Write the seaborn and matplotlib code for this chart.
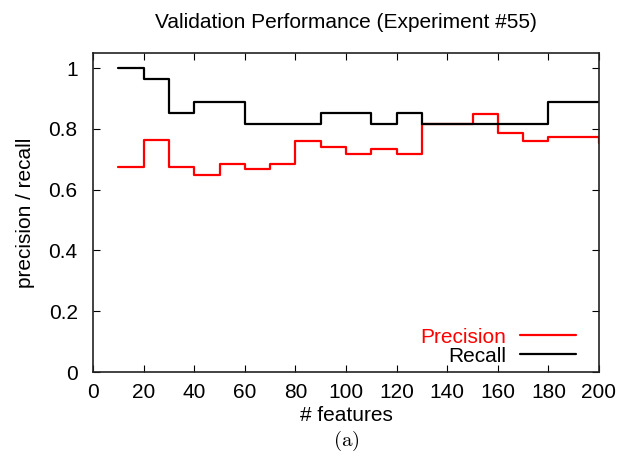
import matplotlib
matplotlib.use("Agg")
import matplotlib.pyplot as plt
import seaborn as sns
import pandas as pd

features = [10, 20, 30, 40, 50, 60, 70, 80, 90, 100, 110, 120, 130, 140, 150, 160, 170, 180, 190, 200]
precision = [0.675, 0.765, 0.675, 0.648, 0.686, 0.668, 0.686, 0.761, 0.742, 0.718, 0.733, 0.718,
             0.815, 0.815, 0.848, 0.787, 0.761, 0.774, 0.774, 0.755]
recall = [1.0, 0.964, 0.853, 0.889, 0.889, 0.816, 0.816, 0.816, 0.853, 0.853, 0.816, 0.853,
          0.816, 0.816, 0.816, 0.816, 0.816, 0.889, 0.889, 0.889]
x_ticks = [0, 20, 40, 60, 80, 100, 120, 140, 160, 180, 200]
y_ticks = [0, 0.2, 0.4, 0.6, 0.8, 1.0]
y_tick_labels = ["0", "0.2", "0.4", "0.6", "0.8", "1"]

sns.set_theme(style="ticks")
plt.rcParams["font.family"] = ["Liberation Sans", "DejaVu Sans"]
plt.rcParams["mathtext.fontset"] = "cm"
plt.rcParams["text.color"] = "black"
plt.rcParams["axes.labelcolor"] = "black"
plt.rcParams["xtick.color"] = "black"
plt.rcParams["ytick.color"] = "black"

df = pd.DataFrame({"features": features, "precision": precision, "recall": recall})

fig = plt.figure(figsize=(6.18, 4.71), dpi=100)
ax = fig.add_axes([93 / 618, 1 - 372 / 471, (599 - 93) / 618, (372 - 53) / 471])

sns.lineplot(data=df, x="features", y="precision", ax=ax, color="#ff0000",
             drawstyle="steps-post", linewidth=1.6, label="Precision")
sns.lineplot(data=df, x="features", y="recall", ax=ax, color="black",
             drawstyle="steps-post", linewidth=1.6, label="Recall")

ax.set_xlim(0, 200)
ax.set_ylim(0, 1.05)
ax.set_xticks(x_ticks)
ax.set_xticklabels([str(v) for v in x_ticks])
ax.set_yticks(y_ticks)
ax.set_yticklabels(y_tick_labels)
ax.tick_params(direction="in", length=5, width=0.8, labelsize=15, colors="black",
               top=True, right=True)
ax.tick_params(axis="x", pad=8)
ax.tick_params(axis="y", pad=11)
for s in ax.spines.values():
    s.set_linewidth(1.2)
    s.set_color("#222222")

ax.set_title("Validation Performance (Experiment #55)", fontsize=15, pad=18, color="black")
ax.set_xlabel("# features", fontsize=15, labelpad=3, color="black")
ax.set_ylabel("precision / recall", fontsize=15, labelpad=10, color="black")

leg = ax.legend(loc="lower right", bbox_to_anchor=(0.955, 0.02), frameon=False,
                markerfirst=False, fontsize=15, handlelength=2.7, handletextpad=0.65,
                labelspacing=0.0, borderaxespad=0, borderpad=0)
for txt, col in zip(leg.get_texts(), ["#ff0000", "black"]):
    txt.set_color(col)
    txt.set_ha("right")

fig.text(346 / 618, 1 - 441 / 471, r"$\mathrm{(a)}$", ha="center", va="center", fontsize=15)

fig.savefig("out.png", dpi=100)
